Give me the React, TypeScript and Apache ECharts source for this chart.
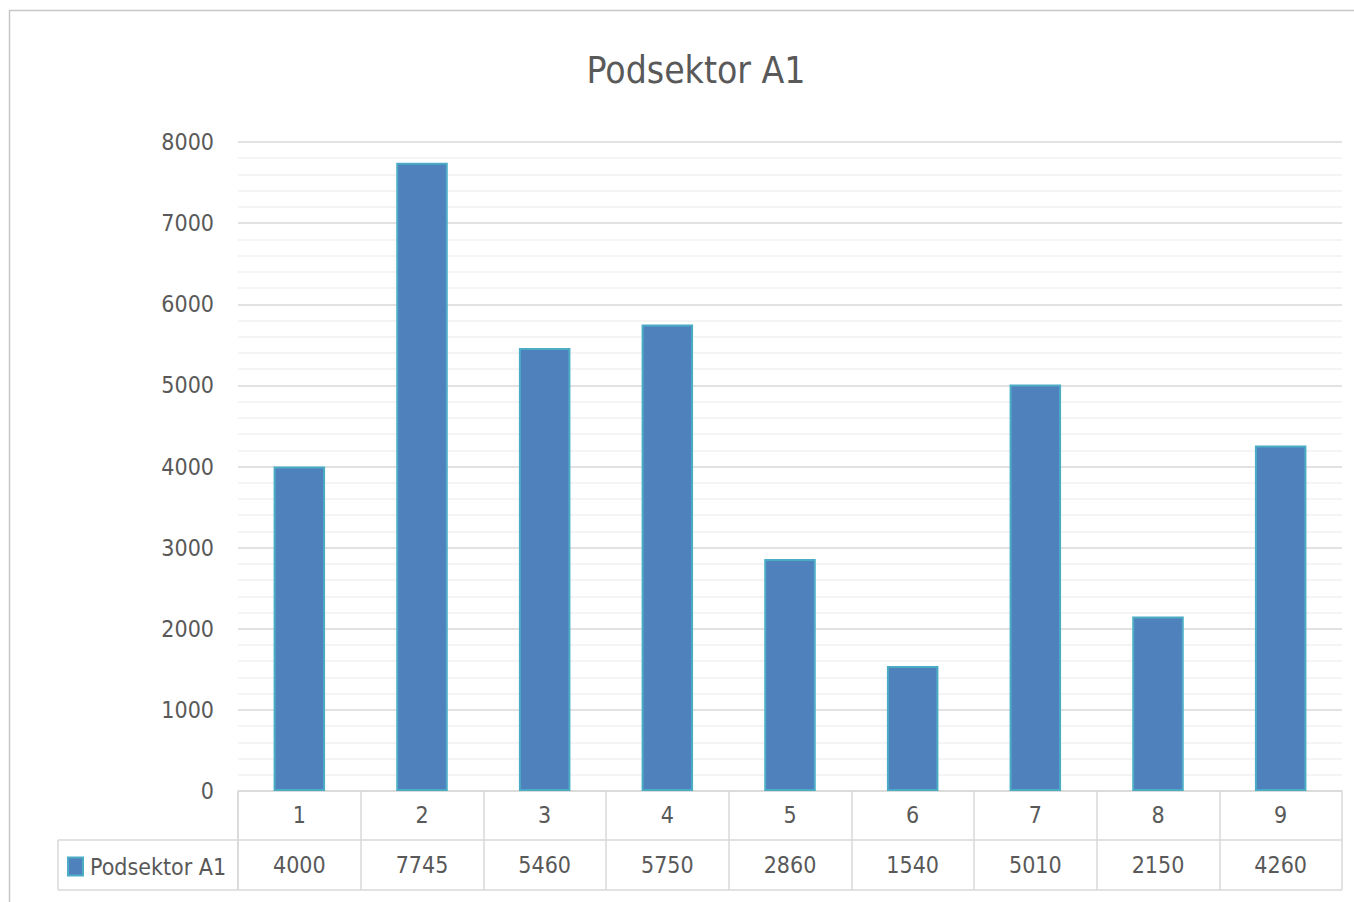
import React, { useEffect, useRef } from "react";
import * as echarts from "echarts";

const categories = ["1", "2", "3", "4", "5", "6", "7", "8", "9"];
const seriesName = "Podsektor A1";
const seriesValues = [4000, 7745, 5460, 5750, 2860, 1540, 5010, 2150, 4260];
const yTicks = { min: 0, max: 8000, interval: 1000 };

const FONT = "'Liberation Sans Narrow', 'DejaVu Sans Condensed', 'Open Sans', sans-serif";
const TEXT = "#595959";
const LINE = "#D9D9D9";

export default function App() {
  const ref = useRef<HTMLDivElement>(null);
  useEffect(() => {
    document.body.style.margin = "0";
    const chart = echarts.init(ref.current!, null, { renderer: "svg" });
    const gridLeft = 238, gridRight = 12, gridTop = 142, gridBottom = 111;
    const axisY = 902 - gridBottom;
    const plotRight = 1354 - gridRight;
    chart.setOption({
      animation: false,
      backgroundColor: "#fff",
      title: {
        text: "Podsektor A1",
        left: 691,
        textAlign: "center",
        top: 47,
        textStyle: { fontFamily: FONT, fontSize: 37, fontWeight: "normal", color: TEXT },
      },
      legend: {
        data: [seriesName],
        left: 62,
        top: 850,
        itemWidth: 15,
        itemHeight: 18,
        itemGap: 4,
        icon: "rect",
        textStyle: { fontFamily: FONT, fontSize: 23, color: TEXT, padding: [0, 0, 0, 2] },
      },
      grid: { left: gridLeft, right: gridRight, top: gridTop, bottom: gridBottom },
      xAxis: [
        {
          type: "category",
          data: categories,
          boundaryGap: true,
          axisLine: { show: true, lineStyle: { color: LINE, width: 1.5 } },
          axisTick: { show: true, length: 99, alignWithLabel: false, lineStyle: { color: LINE, width: 1.5 } },
          axisLabel: { fontFamily: FONT, fontSize: 23, color: TEXT, margin: 12 },
        },
        {
          type: "category",
          data: categories,
          position: "bottom",
          offset: 50,
          axisLine: { show: false },
          axisTick: { show: false },
          axisLabel: {
            fontFamily: FONT,
            fontSize: 23,
            color: TEXT,
            margin: 12,
            formatter: (_v: string, i: number) => String(seriesValues[i]),
          },
        },
      ],
      yAxis: {
        type: "value",
        min: yTicks.min,
        max: yTicks.max,
        interval: yTicks.interval,
        axisLine: { show: false },
        axisTick: { show: false },
        axisLabel: {
          fontFamily: FONT,
          fontSize: 23,
          color: TEXT,
          margin: 24,
          formatter: (v: number) => String(v),
        },
        splitLine: { lineStyle: { color: LINE, width: 1.5 } },
        minorTick: { show: false, splitNumber: 5 },
        minorSplitLine: { show: true, lineStyle: { color: "#F0F0F0", width: 1.5 } },
      },
      series: [
        {
          name: seriesName,
          type: "bar",
          data: seriesValues,
          barWidth: "42%",
          itemStyle: { color: "#4F81BD", borderColor: "#4BACC6", borderWidth: 2 },
        },
      ],
      graphic: [
        {
          type: "rect",
          shape: { x: 9.5, y: 10.5, width: 1400, height: 1000 },
          style: { fill: "none", stroke: "#C8C8C8", lineWidth: 1.5 },
          silent: true,
        },
        {
          type: "line",
          shape: { x1: 58, y1: 840, x2: plotRight, y2: 840 },
          style: { stroke: LINE, lineWidth: 1.5 },
        },
        {
          type: "line",
          shape: { x1: 58, y1: 890, x2: plotRight, y2: 890 },
          style: { stroke: LINE, lineWidth: 1.5 },
        },
        {
          type: "line",
          shape: { x1: 58, y1: 840, x2: 58, y2: 890 },
          style: { stroke: LINE, lineWidth: 1.5 },
        },
        {
          type: "line",
          shape: { x1: gridLeft, y1: axisY, x2: gridLeft, y2: 890 },
          style: { stroke: LINE, lineWidth: 1.5 },
        },
      ],
    });
    return () => chart.dispose();
  }, []);
  return <div ref={ref} style={{ width: 1354, height: 902 }} />;
}
